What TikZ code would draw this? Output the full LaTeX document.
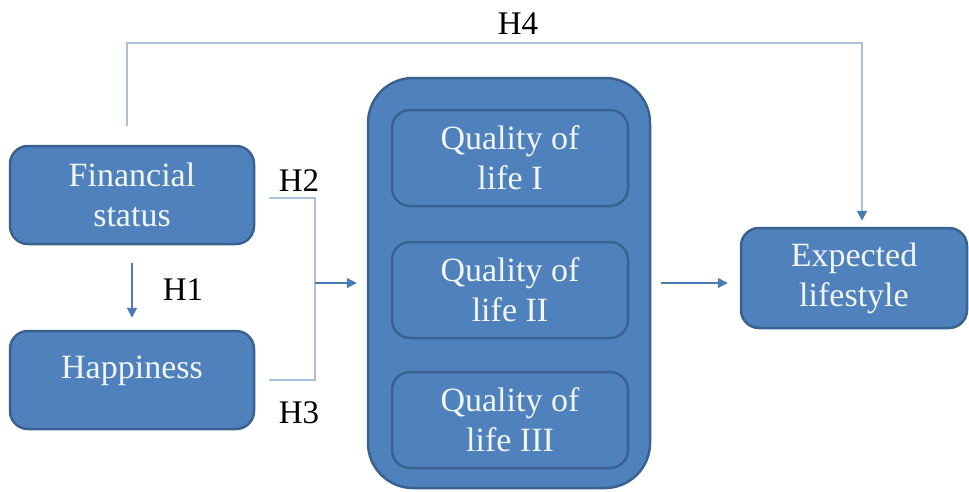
\documentclass[tikz,border=0pt]{standalone}
\usepackage{fontspec}
\setmainfont{Liberation Serif}
\usetikzlibrary{arrows.meta}
\definecolor{boxfill}{HTML}{4F81BD}
\definecolor{boxedge}{HTML}{3A6291}
\definecolor{linec}{HTML}{A9BFDA}
\definecolor{arrowc}{HTML}{4A7BB5}
\definecolor{txtc}{HTML}{F2F5FA}
\begin{document}
\begin{tikzpicture}[x=1pt,y=-1pt,
 box/.style={draw=boxedge, line width=2.5pt, fill=boxfill, rounded corners=18pt, text=txtc, align=center, font=\fontsize{34}{40}\selectfont, inner sep=0pt},
 lab/.style={font=\fontsize{33}{38}\selectfont, text=black, inner sep=0pt},
 arr/.style={draw=arrowc, line width=1.5pt, -{Triangle[length=10pt,width=10pt]}},
 brk/.style={draw=linec, line width=2pt},
 tiparr/.style={draw=linec, line width=2pt, -{Triangle[length=10pt,width=10pt,color=arrowc,fill=arrowc]}}]
\useasboundingbox[fill=white] (0,0) rectangle (969,491);
\node[box, minimum width=244pt, minimum height=98pt] (fin) at (132,195) {Financial\\status};
\node[box, minimum width=244pt, minimum height=98pt] (hap) at (132,380) {};
\node[text=txtc, font=\fontsize{34}{40}\selectfont, inner sep=0pt] (haptxt) at (132,371) {Happiness};
\node[box, rounded corners=45pt, minimum width=282pt, minimum height=410pt] (qol) at (509,283) {};
\node[box, minimum width=236pt, minimum height=96pt] (q1) at (510,158) {Quality of\\life I};
\node[box, minimum width=236pt, minimum height=96pt] (q2) at (510,290) {Quality of\\life II};
\node[box, minimum width=236pt, minimum height=96pt] (q3) at (510,420) {Quality of\\life III};
\node[box, minimum width=226pt, minimum height=100pt] (exp) at (854,278) {Expected\\lifestyle};
\coordinate (bx) at (315,283);
\coordinate (h4b) at (862,43);
% H1
\draw[arr] ([yshift=-18pt]fin.south) -- ([yshift=12pt]hap.north);
% bracket H2/H3
\draw[brk] ([xshift=14pt,yshift=-3pt]fin.east) -| (bx) |- ([xshift=14pt]hap.east);
\draw[arr] (bx) -- ([xshift=-10pt]qol.west);
% out
\draw[arr] ([xshift=10pt]qol.east) -- ([xshift=-12pt]qol.east -| exp.west);
% H4
\draw[tiparr] ([xshift=-5pt,yshift=19pt]fin.north) |- (h4b) -- ([yshift=6pt]h4b |- exp.north);
\node[lab] (l1) at (183,290) {H1};
\node[lab] (l2) at (299,181) {H2};
\node[lab] (l3) at (299,413) {H3};
\node[lab] (l4) at (518,24) {H4};
\end{tikzpicture}
\end{document}
